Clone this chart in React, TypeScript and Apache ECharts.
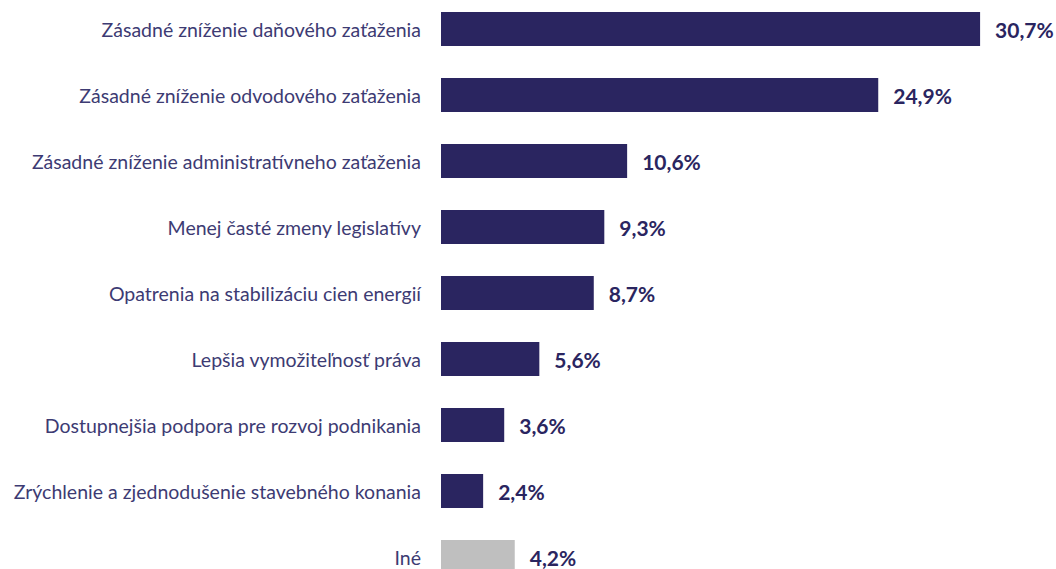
import React, { useEffect, useRef } from "react";
import * as echarts from "echarts";

const categories = [
  "Zásadné zníženie daňového zaťaženia",
  "Zásadné zníženie odvodového zaťaženia",
  "Zásadné zníženie administratívneho zaťaženia",
  "Menej časté zmeny legislatívy",
  "Opatrenia na stabilizáciu cien energií",
  "Lepšia vymožiteľnosť práva",
  "Dostupnejšia podpora pre rozvoj podnikania",
  "Zrýchlenie a zjednodušenie stavebného konania",
  "Iné",
];
const values = [30.7, 24.9, 10.6, 9.3, 8.7, 5.6, 3.6, 2.4, 4.2];
const barColors = [
  "#2a2560", "#2a2560", "#2a2560", "#2a2560", "#2a2560",
  "#2a2560", "#2a2560", "#2a2560", "#bfbfbf",
];

export default function App() {
  const ref = useRef<HTMLDivElement>(null);
  useEffect(() => {
    if (!ref.current) return;
    const chart = echarts.init(ref.current, null, { renderer: "svg" });
    chart.setOption({
      animation: false,
      backgroundColor: "#ffffff",
      grid: {
        left: 441,
        top: -4,
        width: 614.6,
        height: 594,
        containLabel: false,
        outerBoundsMode: "none",
      },
      xAxis: { type: "value", min: 0, max: 35, show: false },
      yAxis: {
        type: "category",
        data: categories,
        inverse: true,
        axisLine: { show: false },
        axisTick: { show: false },
        axisLabel: {
          margin: 20,
          color: "#3d3b73",
          fontFamily: "Lato",
          fontSize: 19.5,
        },
      },
      series: [
        {
          type: "bar",
          barWidth: 34,
          data: values.map((v, i) => ({ value: v, itemStyle: { color: barColors[i] } })),
          label: {
            show: true,
            position: "right",
            distance: 15,
            color: "#2a2560",
            fontFamily: "Lato",
            fontWeight: "bold",
            fontSize: 21,
            formatter: (p: any) => String(p.value).replace(".", ",") + "%",
          },
        },
      ],
    });
    return () => chart.dispose();
  }, []);
  return (
    <div
      ref={ref}
      style={{ position: "absolute", left: 0, top: 0, width: 1056, height: 569 }}
    />
  );
}
